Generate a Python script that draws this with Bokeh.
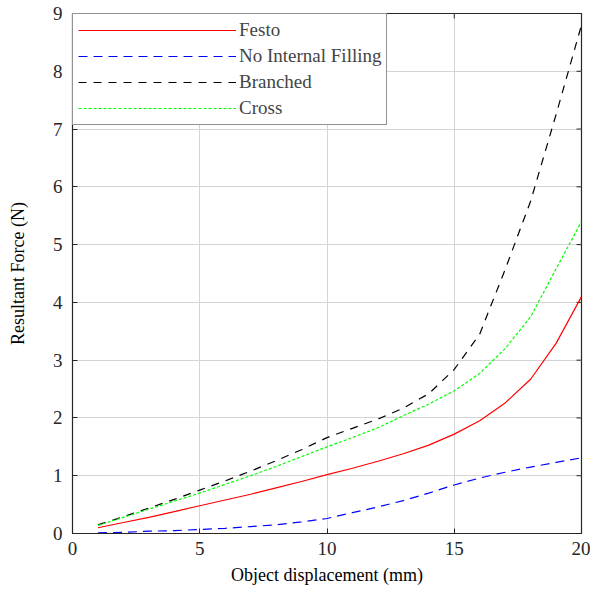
import math
from bokeh.plotting import figure
from bokeh.models import FixedTicker, Range1d
from bokeh.embed import file_html
from bokeh.resources import INLINE

displacement = list(range(1, 21))
festo = [0.10, 0.19, 0.28, 0.38, 0.48, 0.58, 0.68, 0.79, 0.90, 1.02,
         1.13, 1.25, 1.38, 1.53, 1.72, 1.95, 2.26, 2.67, 3.29, 4.10]
no_internal = [0.01, 0.02, 0.04, 0.05, 0.07, 0.09, 0.12, 0.15, 0.20, 0.26,
               0.36, 0.46, 0.57, 0.70, 0.84, 0.96, 1.06, 1.15, 1.23, 1.31]
branched = [0.15, 0.29, 0.44, 0.59, 0.75, 0.91, 1.08, 1.26, 1.45, 1.66,
            1.82, 1.98, 2.17, 2.42, 2.84, 3.45, 4.57, 5.75, 7.25, 8.80]
cross = [0.14, 0.28, 0.42, 0.56, 0.70, 0.85, 1.00, 1.16, 1.33, 1.50,
         1.66, 1.83, 2.04, 2.24, 2.47, 2.77, 3.20, 3.75, 4.58, 5.40]

series_names = ["Festo", "No Internal Filling", "Branched", "Cross"]
x_ticks = [0, 5, 10, 15, 20]
y_ticks = [0, 1, 2, 3, 4, 5, 6, 7, 8, 9]

FONT = "Liberation Serif"
AX = "#262626"

p = figure(width=590, height=591, output_backend="svg", toolbar_location=None,
           x_range=Range1d(0, 20), y_range=Range1d(0, 9),
           min_border_left=72, min_border_right=9, min_border_top=13, min_border_bottom=58)
p.background_fill_color = "white"
p.border_fill_color = "white"
p.outline_line_color = AX
p.outline_line_width = 1.2

p.xaxis.ticker = FixedTicker(ticks=x_ticks)
p.yaxis.ticker = FixedTicker(ticks=y_ticks)
for ax in (p.xaxis[0], p.yaxis[0]):
    ax.major_tick_in = 5
    ax.major_tick_out = 0
    ax.minor_tick_in = 0
    ax.minor_tick_out = 0
    ax.axis_line_color = AX
    ax.major_tick_line_color = AX
    ax.major_label_text_font = FONT
    ax.major_label_text_font_size = "19px"
    ax.major_label_text_color = AX
    ax.axis_label_text_font = FONT
    ax.axis_label_text_font_size = "18px"
    ax.axis_label_text_font_style = "normal"
    ax.axis_label_text_color = "black"

p.xaxis.axis_label = "Object displacement (mm)"
p.yaxis.axis_label = "Resultant Force (N)"
p.xaxis.major_label_standoff = 8
p.xaxis.axis_label_standoff = 7
p.yaxis.major_label_standoff = 10
p.yaxis.axis_label_standoff = 22

p.xgrid.grid_line_color = "#d4d4d4"
p.ygrid.grid_line_color = "#d4d4d4"
p.xgrid.ticker = FixedTicker(ticks=x_ticks)
p.ygrid.ticker = FixedTicker(ticks=y_ticks)

# mirrored inward ticks on top and right edges (half of each dash is clipped by the frame)
p.scatter(x=x_ticks, y=[y_ticks[-1]] * len(x_ticks), marker="dash", size=10,
          angle=math.pi / 2, line_color=AX, line_width=1)
p.scatter(x=[x_ticks[-1]] * len(y_ticks), y=y_ticks, marker="dash", size=10,
          line_color=AX, line_width=1)

p.line(displacement, festo, line_color="#ff0000", line_width=1.2,
       legend_label=series_names[0])
p.line(displacement, no_internal, line_color="#0000ff", line_width=1.2,
       line_dash="9 6", legend_label=series_names[1])
p.line(displacement, branched, line_color="#000000", line_width=1.2,
       line_dash="8 7", legend_label=series_names[2])
p.line(displacement, cross, line_color="#00ff00", line_width=1.2,
       line_dash="3 2", legend_label=series_names[3])

lg = p.legend[0]
lg.location = "top_left"
lg.margin = 0
lg.padding = 5
lg.spacing = 4
lg.glyph_width = 158
lg.glyph_height = 20
lg.label_height = 20
lg.label_standoff = 3
lg.label_text_font = FONT
lg.label_text_font_size = "19px"
lg.border_line_color = AX
lg.border_line_width = 1.2
lg.background_fill_color = "white"
lg.background_fill_alpha = 1.0

open("out.html", "w").write(file_html(p, INLINE))
